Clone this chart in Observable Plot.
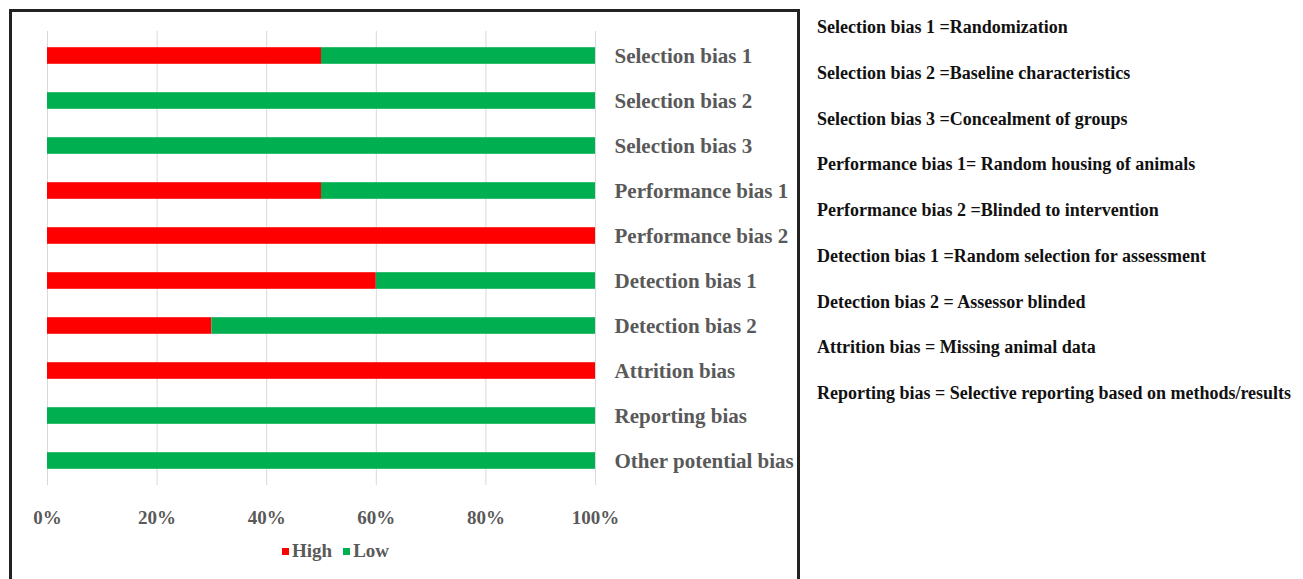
<!DOCTYPE html>
<html>
<head>
<meta charset="utf-8">
<script src="https://cdn.jsdelivr.net/npm/d3@7"></script>
<script src="https://cdn.jsdelivr.net/npm/@observablehq/plot@0.6"></script>
<style>
  html, body { margin: 0; padding: 0; background: #fff; }
  body { width: 1303px; height: 579px; position: relative; overflow: hidden; font-family: "Liberation Serif", "Times New Roman", serif; }
  #box { position: absolute; left: 9px; top: 9px; width: 785px; height: 600px; border: 3px solid #222; box-sizing: content-box; }
  #chart { position: absolute; left: 0; top: 0; }
  #legend { position: absolute; top: 540px; left: 282px; font-size: 19px; font-weight: bold; color: #595959; display: flex; align-items: center; }
  #legend .sw { display: inline-block; width: 7px; height: 7px; margin-right: 3px; }
  #legend .item { display: flex; align-items: center; margin-right: 11px; }
  #notes { position: absolute; left: 817px; top: 16px; font-size: 18px; font-weight: bold; color: #111; }
  #notes div { height: 45.75px; line-height: 22px; white-space: nowrap; }
</style>
</head>
<body>
<div id="box"></div>
<div id="chart"></div>
<div id="legend"></div>
<div id="notes"></div>
<script>
const categories = ["Selection bias 1","Selection bias 2","Selection bias 3","Performance bias 1","Performance bias 2","Detection bias 1","Detection bias 2","Attrition bias","Reporting bias","Other potential bias"];
const highValues = [0.5, 0, 0, 0.5, 1, 0.6, 0.3, 1, 0, 0];
const lowValues  = [0.5, 1, 1, 0.5, 0, 0.4, 0.7, 0, 1, 1];
const seriesNames = ["High", "Low"];
const seriesColors = ["#ff0000", "#00b050"];
const xTicks = [0, 0.2, 0.4, 0.6, 0.8, 1];
const notes = [
  "Selection bias 1 =Randomization",
  "Selection bias 2 =Baseline characteristics",
  "Selection bias 3 =Concealment of groups",
  "Performance bias 1= Random housing of animals",
  "Performance bias 2 =Blinded to intervention",
  "Detection bias 1 =Random selection for assessment",
  "Detection bias 2 = Assessor blinded",
  "Attrition bias = Missing animal data",
  "Reporting bias = Selective reporting based on methods/results"
];

const data = [];
categories.forEach((c, i) => {
  data.push({category: c, series: seriesNames[0], value: highValues[i]});
  data.push({category: c, series: seriesNames[1], value: lowValues[i]});
});

const chart = Plot.plot({
  width: 800,
  height: 579,
  marginLeft: 47,
  marginRight: 205,
  marginTop: 31,
  marginBottom: 94,
  style: {fontFamily: '"Liberation Serif", "Times New Roman", serif', background: "transparent", overflow: "visible"},
  x: {domain: [0, 1], ticks: xTicks, tickFormat: d => Math.round(d * 100) + "%"},
  y: {domain: categories, padding: 0},
  color: {domain: seriesNames, range: seriesColors},
  marks: [
    Plot.gridX(xTicks, {stroke: "#d9d9d9", strokeOpacity: 1, strokeWidth: 1}),
    Plot.barX(data, Plot.stackX({x: "value", y: "category", fill: "series", order: seriesNames, insetTop: 14.2, insetBottom: 14.2})),
    Plot.axisX(xTicks, {tickSize: 0, tickPadding: 25, fontSize: 19, fontWeight: "bold", fill: "#595959", tickFormat: d => Math.round(d * 100) + "%", label: null}),
    Plot.axisY({anchor: "right", tickSize: 0, tickPadding: 19, textAnchor: "start", fontSize: 21, fontWeight: "bold", fill: "#595959", label: null})
  ]
});
document.getElementById("chart").appendChild(chart);

const legend = document.getElementById("legend");
seriesNames.forEach((s, i) => {
  const item = document.createElement("span");
  item.className = "item";
  const sw = document.createElement("span");
  sw.className = "sw";
  sw.style.background = seriesColors[i];
  item.appendChild(sw);
  item.appendChild(document.createTextNode(s));
  legend.appendChild(item);
});

const notesEl = document.getElementById("notes");
notes.forEach(n => {
  const d = document.createElement("div");
  d.textContent = n;
  notesEl.appendChild(d);
});
</script>
</body>
</html>
